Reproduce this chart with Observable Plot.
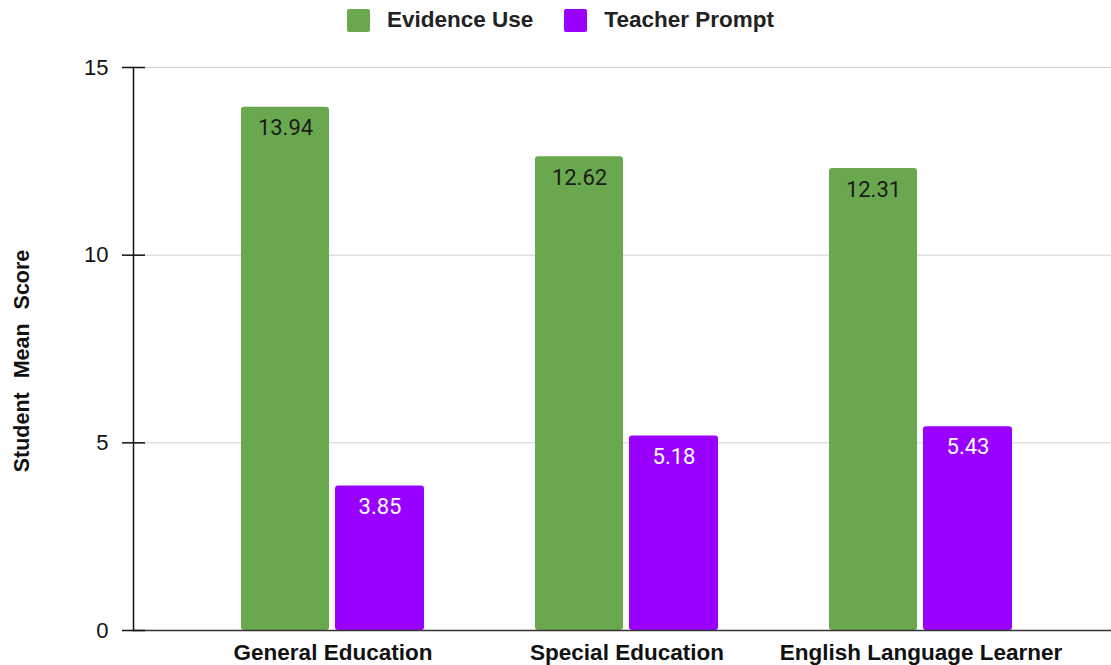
<!DOCTYPE html>
<html>
<head>
<meta charset="utf-8">
<script src="https://cdn.jsdelivr.net/npm/d3@7"></script>
<script src="https://cdn.jsdelivr.net/npm/@observablehq/plot@0.6"></script>
<style>
  body { margin: 0; background: #fff; font-family: "Liberation Sans", Arial, sans-serif; }
  #legend { height: 40px; display: flex; align-items: center; justify-content: center; gap: 31px; padding-left: 10px; }
  .item { display: flex; align-items: center; gap: 17px; font-weight: bold; font-size: 22.5px; color: #222; }
  .sw { width: 23px; height: 23px; border-radius: 2px; }
  #chart svg { display: block; }
  .ylabel { word-spacing: 8px; }
</style>
</head>
<body>
<div id="legend"></div>
<div id="chart"></div>
<script>
// Student mean scores by group
const categories = ["General Education", "Special Education", "English Language Learner"];
const seriesNames = ["Evidence Use", "Teacher Prompt"];
const evidenceUse = [13.94, 12.62, 12.31];
const teacherPrompt = [3.85, 5.18, 5.43];
const seriesColors = ["#6aa84f", "#9900ff"];
const yTicks = [0, 5, 10, 15];

const evRows = categories.map((c, i) => ({category: c, series: seriesNames[0], value: evidenceUse[i]}));
const tpRows = categories.map((c, i) => ({category: c, series: seriesNames[1], value: teacherPrompt[i]}));

// Legend
const legend = d3.select("#legend");
seriesNames.forEach((name, i) => {
  const item = legend.append("div").attr("class", "item");
  item.append("div").attr("class", "sw").style("background", seriesColors[i]);
  item.append("span").text(name);
});

const chart = Plot.plot({
  width: 1111,
  height: 625,
  marginTop: 27,
  marginBottom: 35,
  marginLeft: 133,
  marginRight: 0,
  style: {fontFamily: "'Liberation Sans', Arial, sans-serif", color: "#111"},
  x: {domain: categories, paddingInner: 0.376, paddingOuter: 0.3458, align: 0.525},
  y: {domain: [0, 15]},
  marks: [
    Plot.ruleY(yTicks.filter(d => d > 0), {stroke: "#cfcfcf"}),
    Plot.barY(evRows, {x: "category", y: "value", fill: seriesColors[0], insetRight: 95, rx: 3}),
    Plot.barY(tpRows, {x: "category", y: "value", fill: seriesColors[1], insetLeft: 94, rx: 3}),
    Plot.ruleY([0], {stroke: "#333", strokeWidth: 1.5}),
    Plot.ruleY(yTicks, {stroke: "#111", dx: -11, insetRight: 955, strokeWidth: 1.5}),
    Plot.frame({anchor: "left", stroke: "#111", strokeWidth: 1.5}),
    Plot.axisY({ticks: yTicks, tickSize: 0, tickPadding: 25, fontSize: 22, label: null}),
    Plot.axisX({tickSize: 0, tickPadding: 14, fontSize: 22.5, fontWeight: "bold", label: null}),
    Plot.text(evRows, {x: "category", y: "value", text: d => d.value.toFixed(2), dx: -47.5, dy: 21,
      fill: "#1a1a1a", fontSize: 22, fontFamily: "Roboto"}),
    Plot.text(tpRows, {x: "category", y: "value", text: d => d.value.toFixed(2), dx: 47, dy: 20.5,
      fill: "#ffffff", fontSize: 22, fontFamily: "Roboto"}),
    Plot.text(["Student Mean Score"], {frameAnchor: "left", textAnchor: "middle", text: d => d, rotate: -90,
      dx: -111, dy: 12, fontSize: 21.5, fontWeight: "bold", fill: "#111", className: "ylabel"})
  ]
});
document.getElementById("chart").append(chart);
</script>
</body>
</html>
